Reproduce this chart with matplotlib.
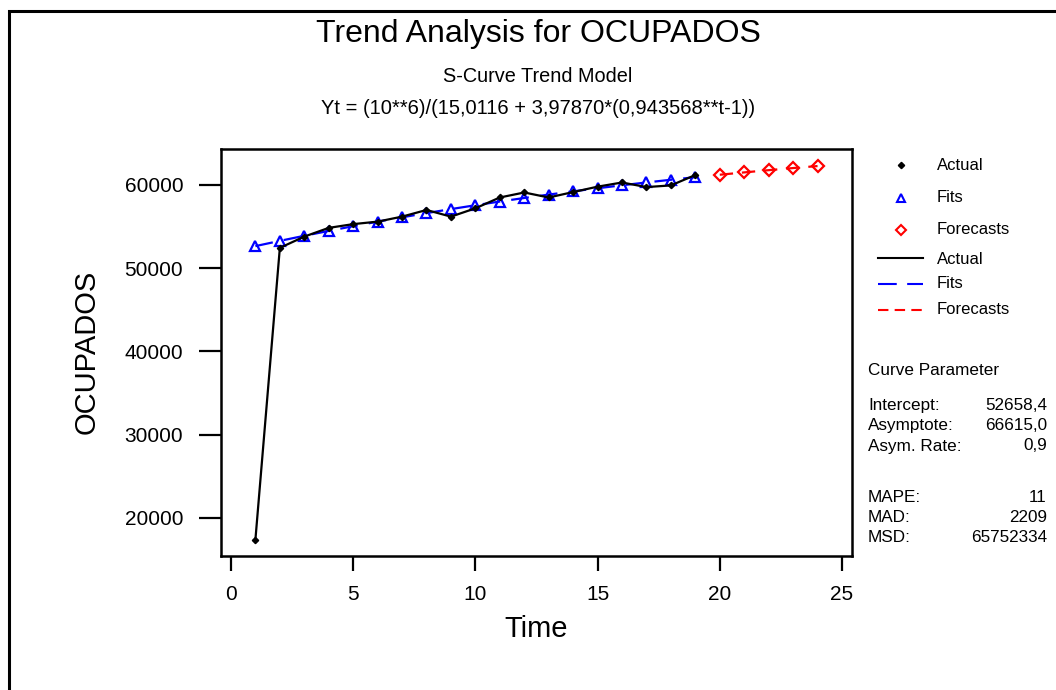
import matplotlib
matplotlib.use("Agg")
import matplotlib.pyplot as plt
from matplotlib.lines import Line2D
from matplotlib.patches import Rectangle

plt.rcParams['font.family'] = ['Liberation Sans', 'DejaVu Sans']

# ---- data ----
time_actual = list(range(1, 20))
actual = [17400, 52450, 53800, 54850, 55300, 55600, 56200, 57000, 56200, 57200,
          58500, 59100, 58500, 59150, 59800, 60300, 59750, 59950, 61200]
fits = [52658, 53289, 53897, 54484, 55050, 55594, 56118, 56622, 57105, 57569,
        58013, 58439, 58847, 59237, 59610, 59965, 60305, 60629, 60938]
time_fc = [20, 21, 22, 23, 24]
forecasts = [61233, 61513, 61781, 62035, 62276]

x_ticks = [0, 5, 10, 15, 20, 25]
y_ticks = [20000, 30000, 40000, 50000, 60000]

title = "Trend Analysis for OCUPADOS"
subtitle = "S-Curve Trend Model"
equation = "Yt = (10**6)/(15,0116 + 3,97870*(0,943568**t-1))"
param_labels = ["Intercept:", "Asymptote:", "Asym. Rate:"]
param_values = ["52658,4", "66615,0", "0,9"]
acc_labels = ["MAPE:", "MAD:", "MSD:"]
acc_values = ["11", "2209", "65752334"]

W, H = 1056, 690
fig = plt.figure(figsize=(W / 100, H / 100), dpi=100)
fig.patch.set_facecolor("white")

def fx(px):
    return px / W

def fy(py):
    return 1 - py / H

# outer frame
fig.patches.append(Rectangle((fx(9), fy(1000)), fx(1200), fy(11) - fy(1000),
                             transform=fig.transFigure, fill=False,
                             edgecolor="black", linewidth=2.2))

ax = fig.add_axes([fx(220.7), fy(556), fx(852) - fx(220.7), fy(148.7) - fy(556)])
ax.set_xlim(-0.42, 25.41)
ax.set_ylim(15435, 64360)

ax.plot(time_actual, actual, color="black", linewidth=1.6, zorder=3)
ax.plot(time_actual, actual, linestyle="none", marker="D", markersize=3.2,
        color="black", zorder=4)
ax.plot(time_actual, fits, color="blue", linewidth=1.6, dashes=(8, 5), zorder=2)
ax.plot(time_actual, fits, linestyle="none", marker="^", markersize=7,
        markerfacecolor="none", markeredgecolor="blue", markeredgewidth=1.6, zorder=2)
ax.plot(time_fc, forecasts, color="red", linewidth=1.6, dashes=(6, 4), zorder=2)
ax.plot(time_fc, forecasts, linestyle="none", marker="D", markersize=6,
        markerfacecolor="none", markeredgecolor="red", markeredgewidth=1.6, zorder=3)

ax.set_xticks(x_ticks)
ax.set_yticks(y_ticks)
ax.set_xticklabels([str(v) for v in x_ticks], fontsize=15)
ax.set_yticklabels([str(v) for v in y_ticks], fontsize=15)
ax.tick_params(axis="x", direction="out", length=11, width=1.6, pad=10)
ax.tick_params(axis="y", direction="out", length=16, width=1.6, pad=11)
for s in ax.spines.values():
    s.set_linewidth(1.8)

ax.set_xlabel("Time", fontsize=21, labelpad=8)
ax.set_ylabel("OCUPADOS", fontsize=21, labelpad=17)

# titles
fig.text(fx(538), fy(34), title, ha="center", va="center", fontsize=23)
fig.text(fx(538), fy(76), subtitle, ha="center", va="center", fontsize=14.3)
fig.text(fx(538), fy(108), equation, ha="center", va="center", fontsize=14.5)

# legend (manual)
ytxt = [165, 197, 229, 259, 283, 310]
labels = ["Actual", "Fits", "Forecasts", "Actual", "Fits", "Forecasts"]
for y, lab in zip(ytxt, labels):
    fig.text(fx(937), fy(y), lab, ha="left", va="center", fontsize=12)
fig.add_artist(Line2D([fx(901)], [fy(165)], marker="D", markersize=3.2, color="black",
                      linestyle="none", transform=fig.transFigure))
fig.add_artist(Line2D([fx(901)], [fy(198)], marker="^", markersize=6, markerfacecolor="none",
                      markeredgecolor="blue", markeredgewidth=1.5, linestyle="none",
                      transform=fig.transFigure))
fig.add_artist(Line2D([fx(901)], [fy(230)], marker="D", markersize=5, markerfacecolor="none",
                      markeredgecolor="red", markeredgewidth=1.5, linestyle="none",
                      transform=fig.transFigure))
fig.add_artist(Line2D([fx(878), fx(923)], [fy(258), fy(258)], color="black", linewidth=1.5,
                      transform=fig.transFigure))
fig.add_artist(Line2D([fx(878), fx(923)], [fy(284), fy(284)], color="blue", linewidth=1.5,
                      dashes=(9, 5), transform=fig.transFigure))
fig.add_artist(Line2D([fx(878), fx(923)], [fy(310), fy(310)], color="red", linewidth=1.5,
                      dashes=(5, 3), transform=fig.transFigure))

# parameters text
fs = 12.3
fig.text(fx(868), fy(370), "Curve Parameter", ha="left", va="center", fontsize=fs)
for i, (lab, val) in enumerate(zip(param_labels, param_values)):
    y = 405 + i * 20.5
    fig.text(fx(868), fy(y), lab, ha="left", va="center", fontsize=fs)
    fig.text(fx(1047), fy(y), val, ha="right", va="center", fontsize=fs)
for i, (lab, val) in enumerate(zip(acc_labels, acc_values)):
    y = 498 + i * 19.5
    fig.text(fx(868), fy(y), lab, ha="left", va="center", fontsize=fs)
    fig.text(fx(1047), fy(y), val, ha="right", va="center", fontsize=fs)

fig.savefig("out.png", dpi=100)
